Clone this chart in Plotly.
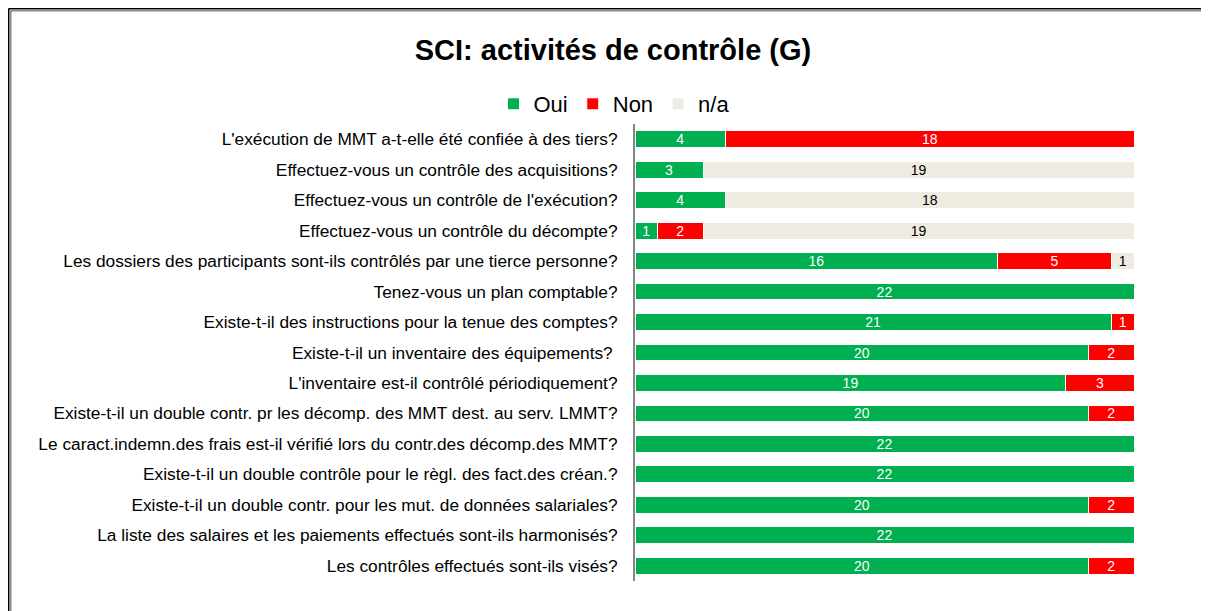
import plotly.graph_objects as go

questions = [
    "L'exécution de MMT a-t-elle été confiée à des tiers?",
    "Effectuez-vous un contrôle des acquisitions?",
    "Effectuez-vous un contrôle de l'exécution?",
    "Effectuez-vous un contrôle du décompte?",
    "Les dossiers des participants sont-ils contrôlés par une tierce personne?",
    "Tenez-vous un plan comptable?",
    "Existe-t-il des instructions pour la tenue des comptes?",
    "Existe-t-il un inventaire des équipements? ",
    "L'inventaire est-il contrôlé périodiquement?",
    "Existe-t-il un double contr. pr les décomp. des MMT dest. au serv. LMMT?",
    "Le caract.indemn.des frais est-il vérifié lors du contr.des décomp.des MMT?",
    "Existe-t-il un double contrôle pour le règl. des fact.des créan.?",
    "Existe-t-il un double contr. pour les mut. de données salariales?",
    "La liste des salaires et les paiements effectués sont-ils harmonisés?",
    "Les contrôles effectués sont-ils visés?",
]
oui = [4, 3, 4, 1, 16, 22, 21, 20, 19, 20, 22, 22, 20, 22, 20]
non = [18, 0, 0, 2, 5, 0, 1, 2, 3, 2, 0, 0, 2, 0, 2]
na = [0, 19, 18, 19, 1, 0, 0, 0, 0, 0, 0, 0, 0, 0, 0]

# page puts the plot at an 8px offset, so work in shifted coordinates
OFF = 8
W, H = 1209 - OFF, 611 - OFF
L = 635 - OFF
R = 1209 - 1134
T = 124 - OFF
B = 611 - 581
pw, ph = W - L - R, H - T - B

def labels(vals):
    return [str(v) if v else "" for v in vals]

fig = go.Figure()
series = [("Oui", oui, "#00B050", "white"),
          ("Non", non, "#FF0000", "white"),
          ("n/a", na, "#EEECE1", "black")]
for name, vals, col, tcol in series:
    fig.add_trace(go.Bar(
        y=questions, x=vals, name=name, orientation="h",
        marker=dict(color=col, line=dict(color="white", width=1)),
        width=0.55, text=labels(vals), textposition="inside",
        insidetextanchor="middle", textangle=0, constraintext="none",
        textfont=dict(color=tcol, size=14, family="Liberation Sans, Arial"),
        hoverinfo="skip",
    ))

# frame around the chart (left and top edges visible): black outer, grey inner
fx1 = (W + 5 - L) / pw
fy0 = -(B + 5) / ph
for px, col in [(0.5, "#000000"), (2.5, "#8C8C8C")]:
    x = (px - L) / pw
    y = 1 + (T - px) / ph
    fig.add_shape(type="line", xref="paper", yref="paper", x0=x, x1=x, y0=fy0, y1=y,
                  line=dict(color=col, width=2))
    fig.add_shape(type="line", xref="paper", yref="paper", x0=x, x1=fx1, y0=y, y1=y,
                  line=dict(color=col, width=2))

fig.update_layout(
    width=W, height=H,
    margin=dict(l=L, r=R, t=T, b=B),
    barmode="stack",
    paper_bgcolor="white", plot_bgcolor="white",
    font=dict(family="Liberation Sans, Arial", color="black"),
    title=dict(text="<b>SCI: activités de contrôle (G)</b>", x=(613 - OFF) / W, xanchor="center",
               y=1 - (50 - OFF) / H, yanchor="middle", font=dict(size=29, color="black")),
    legend=dict(orientation="h", x=(614 - OFF - L) / pw, xanchor="center",
                y=1 + (T - (104 - OFF)) / ph, yanchor="middle",
                font=dict(size=22), traceorder="normal", itemwidth=30,
                bgcolor="rgba(0,0,0,0)"),
    showlegend=True,
)
fig.update_xaxes(range=[0, 22], showticklabels=False, showgrid=False, zeroline=False,
                 showline=False, fixedrange=True)
fig.update_yaxes(autorange="reversed", showgrid=False, zeroline=False,
                 showline=True, linecolor="#868686", linewidth=2,
                 ticks="", ticklabelstandoff=12,
                 tickfont=dict(size=17.3, color="black", family="Liberation Sans, Arial"))

fig.write_html("out.html")
